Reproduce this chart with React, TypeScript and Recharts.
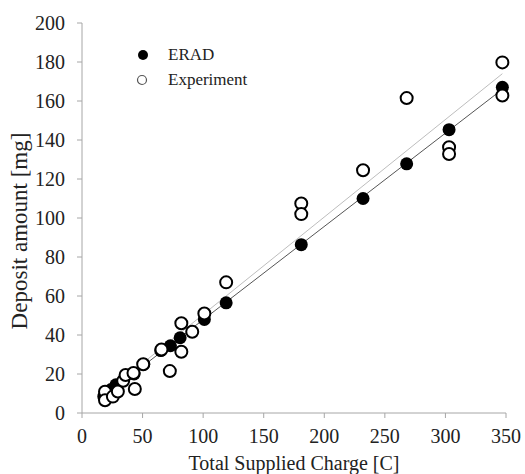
import {
  ComposedChart,
  Scatter,
  Line,
  XAxis,
  YAxis,
} from "recharts";

const eradX = [18, 24, 28, 43, 51, 65, 73, 81, 101, 119, 181, 232, 268, 303, 347];
const eradY = [8.5, 12, 14.5, 20, 25, 32, 34.5, 38.6, 48, 56.5, 86.3, 110, 127.8, 145.3, 167];

const expX = [19, 19, 25.5, 29.6, 34, 36, 42.5, 43.6, 50.5, 65.6, 72.5, 82, 82, 91, 101, 119, 181, 181, 232, 268, 303, 303, 347, 347];
const expY = [10.9, 6.5, 8.4, 11, 16.5, 19.5, 20.5, 12.3, 25, 32.6, 21.5, 31.4, 46, 41.7, 51, 67, 107.4, 102, 124.5, 161.5, 136.3, 132.8, 179.8, 162.8];

// fitted lines, end points
const fitX = [18, 347];
const eradFitY = [8.6, 166];
const expFitY = [9.5, 174];

const xTicks = [0, 50, 100, 150, 200, 250, 300, 350];
const yTicks = [0, 20, 40, 60, 80, 100, 120, 140, 160, 180, 200];

const erad = eradX.map((x, i) => ({ x, y: eradY[i] }));
const experiment = expX.map((x, i) => ({ x, y: expY[i] }));
const eradFit = fitX.map((x, i) => ({ x, y: eradFitY[i] }));
const expFit = fitX.map((x, i) => ({ x, y: expFitY[i] }));

const FONT = "'Liberation Serif', 'Times New Roman', serif";
const AXIS = "#a6a6a6";

const FilledDot = (p: any) => <circle cx={p.cx} cy={p.cy} r={6.5} fill="#000" />;
const OpenDot = (p: any) => (
  <circle cx={p.cx} cy={p.cy} r={6} fill="#fff" stroke="#000" strokeWidth={2} />
);

const YTitle = () => (
  <text
    x={27}
    y={231}
    transform="rotate(-90 27 231)"
    textAnchor="middle"
    fill="#222"
    fontSize={23}
    fontFamily={FONT}
  >
    Deposit amount [mg]
  </text>
);

const LegendBox = () => (
  <div style={{ position: "absolute", left: 136, top: 42, fontFamily: FONT, fontSize: 17, color: "#222" }}>
    <div style={{ display: "flex", alignItems: "center", height: 25 }}>
      <svg width={32} height={20}>
        <circle cx={7} cy={10} r={5} fill="#000" />
      </svg>
      <span>ERAD</span>
    </div>
    <div style={{ display: "flex", alignItems: "center", height: 25 }}>
      <svg width={32} height={20}>
        <circle cx={6} cy={10} r={4.5} fill="#fff" stroke="#555" strokeWidth={1.2} />
      </svg>
      <span>Experiment</span>
    </div>
  </div>
);

export default function App() {
  return (
    <div style={{ position: "absolute", left: 0, top: 0 }}>
      <ComposedChart
        width={525}
        height={474}
        margin={{ top: 23, right: 19, left: 0, bottom: 0 }}
        style={{ fontFamily: FONT }}
      >
        <XAxis
          type="number"
          dataKey="x"
          domain={[0, 350]}
          ticks={xTicks}
          height={61}
          stroke={AXIS}
          tickSize={5}
          tickMargin={11}
          tick={{ fill: "#222", fontSize: 20, fontFamily: FONT }}
          allowDuplicatedCategory={false}
          label={{
            value: "Total Supplied Charge [C]",
            position: "insideBottom",
            offset: 4,
            fill: "#222",
            fontSize: 20,
            fontFamily: FONT,
          }}
        />
        <YAxis
          type="number"
          dataKey="y"
          domain={[0, 200]}
          ticks={yTicks}
          width={82}
          stroke={AXIS}
          tickSize={5}
          tickMargin={12}
          tick={{ fill: "#222", fontSize: 20, fontFamily: FONT }}
          label={<YTitle />}
        />
        <Scatter data={erad} shape={FilledDot} isAnimationActive={false} />
        <Scatter data={experiment} shape={OpenDot} isAnimationActive={false} />
        <Line
          data={expFit}
          dataKey="y"
          stroke="#bdbdbd"
          strokeWidth={1}
          dot={false}
          activeDot={false}
          isAnimationActive={false}
        />
        <Line
          data={eradFit}
          dataKey="y"
          stroke="#555"
          strokeWidth={1}
          dot={false}
          activeDot={false}
          isAnimationActive={false}
        />
      </ComposedChart>
      <LegendBox />
    </div>
  );
}
